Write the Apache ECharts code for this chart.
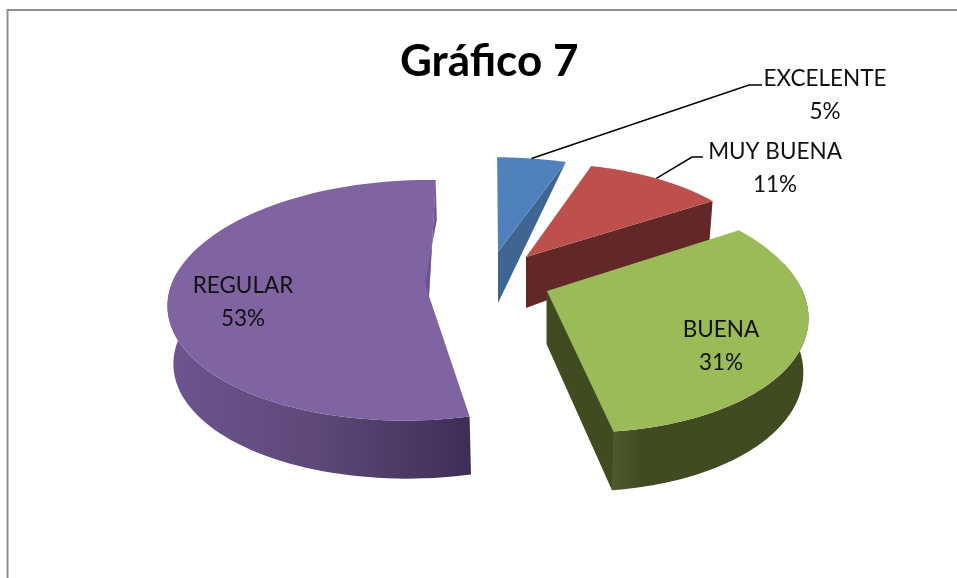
<!DOCTYPE html>
<html><head><meta charset="utf-8">
<style>html,body{margin:0;padding:0;background:#fff}#c{width:957px;height:578px}</style>
<script src="https://cdn.jsdelivr.net/npm/echarts@6/dist/echarts.min.js"></script>
</head><body><div id="c"></div>
<script>
const chartTitle = 'Gráfico 7';
const categories = ['EXCELENTE', 'MUY BUENA', 'BUENA', 'REGULAR'];
const values = [5, 11, 31, 53];

// Layout: a projective view of each exploded slice
const views = [
  {cx:498,cy:252,a:250,b:1,c:8,d:109,q:-.06,r:-.15,top:'#4f81bd',cut:'#3f6592',apexDrop:[0,51],rimDrop:[0,0],label:[825,95],elbow:[[749,85],[762,85]]},
  {cx:526,cy:257,a:225,b:-4,c:0,d:107.5,q:-.06,r:-.15,top:'#bd4f4c',cut:'#622827',apexDrop:[0,51],rimDrop:[-3,39],label:[775,168],elbow:[[692,157],[703,157]]},
  {cx:547,cy:291,a:241,b:11,c:2,d:120,q:-.06,r:-.15,top:'#9bbb59',cut:'#404b22',apexDrop:[0,53],rimDrop:[-1,58.6],label:[721,346],side:{drop:[0,53],xF:.98,yF:1.04,stops:[[0,'#4c5a2c'],[.15,'#404b22'],[1,'#3f4a21']]}},
  {cx:429,cy:296,a:248,b:-7,c:-2,d:120,q:.05,r:-.035,top:'#8064a2',cut:'#6f5490',cutOnTop:true,apexDrop:[-4,-13],rimDrop:[1,40],label:[243,302],side:{drop:[2,58],xF:.985,yF:1,stops:[[0,'#6e5490'],[.5,'#5d4877'],[1,'#3f2d56']]}}
];
const drawOrder = [0, 1, 3, 2];
const labelFont = '22.5px Lato, Carlito, sans-serif';

const total = values.reduce((s, v) => s + v, 0);
const starts = [];
values.reduce((acc, v, i) => { starts[i] = acc; return acc + v; }, 0);

function project(vw, deg) {
  const t = deg * Math.PI / 180, u = Math.sin(t), v = -Math.cos(t);
  const w = 1 + vw.q * u + vw.r * v;
  return [(vw.a * u + vw.b * v) / w, (vw.c * u + vw.d * v) / w, v];
}
function renderSlice(params, api) {
  const i = drawOrder[api.value(0)];
  const vw = views[i];
  const a0 = starts[i] / total * 360, a1 = (starts[i] + values[i]) / total * 360;
  const children = [];
  const abs = p => [vw.cx + p[0], vw.cy + p[1]];
  const rim = [];
  const N = 90;
  for (let k = 0; k <= N; k++) rim.push(a0 + (a1 - a0) * k / N);
  const pc = abs(project(vw, a1));
  const cutFace = {type:'polygon', shape:{points:[
    [vw.cx, vw.cy], pc, [pc[0] + vw.rimDrop[0], pc[1] + vw.rimDrop[1]],
    [vw.cx + vw.apexDrop[0], vw.cy + vw.apexDrop[1]]
  ]}, style:{fill:vw.cut, stroke:vw.side && !vw.cutOnTop ? vw.cut : null, lineWidth:1}};
  if (!vw.cutOnTop) children.push(cutFace);
  // outer wall
  if (vw.side) {
    const visible = rim.filter(d => project(vw, d)[2] > -.25);
    const upper = visible.map(d => abs(project(vw, d)));
    const lower = visible.map(d => { const p = project(vw, d);
      return [vw.cx + vw.side.drop[0] + p[0] * vw.side.xF, vw.cy + vw.side.drop[1] + p[1] * vw.side.yF]; });
    children.push({type:'polygon', shape:{points:upper.concat(lower.reverse())}, style:{
      fill:new echarts.graphic.LinearGradient(0,0,1,0,vw.side.stops.map(s => ({offset:s[0], color:s[1]})))
    }});
  }
  // top face
  children.push({type:'polygon', shape:{points:[[vw.cx, vw.cy]].concat(rim.map(d => abs(project(vw, d))))}, style:{fill:vw.top}});
  if (vw.cutOnTop) children.push(cutFace);
  // leader
  if (vw.elbow) {
    const m = abs(project(vw, (a0 + a1) / 2));
    children.push({type:'polyline', shape:{points:[m].concat(vw.elbow)}, style:{stroke:'#000', lineWidth:1.5, fill:null}});
  }
  // label
  children.push({type:'text', style:{x:vw.label[0], y:vw.label[1], text:categories[i] + '\n' + Math.round(values[i] / total * 100) + '%',
    fill:'#111', font:labelFont, align:'center', verticalAlign:'middle', lineHeight:33}});
  return {type:'group', children};
}
const chart = echarts.init(document.getElementById('c'), null, {renderer:'canvas'});
chart.setOption({
  animation:false,
  backgroundColor:'#fff',
  title:{text:chartTitle, left:395, top:35, textStyle:{fontFamily:'Lato, sans-serif', fontWeight:'bold', fontSize:44, color:'#000'}},
  graphic:[
    {type:'polyline', silent:true, shape:{points:[[7.5,578],[7.5,10],[957,10]]}, style:{stroke:'#8f8f8f', lineWidth:2, fill:null}}
  ],
  series:[{type:'custom', coordinateSystem:'none', renderItem:renderSlice, data:values.map((v, i) => [i, v])}]
});
</script></body></html>
